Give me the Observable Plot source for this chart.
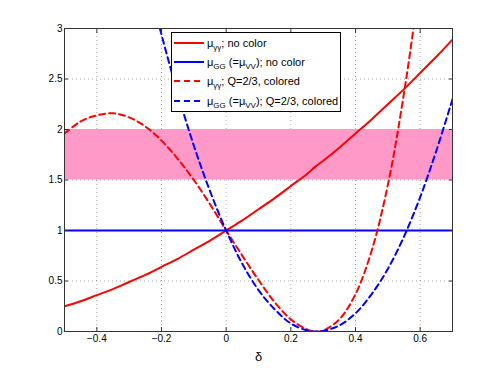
<!DOCTYPE html>
<html>
<head>
<meta charset="utf-8">
<script src="https://cdn.jsdelivr.net/npm/d3@7"></script>
<script src="https://cdn.jsdelivr.net/npm/@observablehq/plot@0.6"></script>
<style>
  body { margin: 0; background: #fff; }
  #wrap { position: relative; width: 498px; height: 372px; font-family: "Liberation Sans", Arial, sans-serif; }
  #legend { position: absolute; left: 171px; top: 32px; width: 170px; height: 80px; border: 1px solid #000; background: #fff; box-sizing: border-box; font-size: 11px; }
  .row { position: absolute; left: 2px; height: 16px; display: flex; align-items: center; white-space: nowrap; }
  .row svg { margin-right: 3px; }
  sub { font-size: 8px; vertical-align: -3px; line-height: 0; }
</style>
</head>
<body>
<div id="wrap"></div>
<script>
// x values (δ)
const delta = [-0.5,-0.45,-0.4,-0.35,-0.3,-0.25,-0.2,-0.15,-0.1,-0.05,0,0.05,0.1,0.15,0.2,0.25,0.275,0.3,0.35,0.4,0.45,0.5,0.55,0.6,0.65,0.7];
// μγγ, no color (red solid)
const muGamNoColor = [0.25,0.30,0.36,0.42,0.49,0.56,0.64,0.72,0.81,0.90,1.00,1.10,1.21,1.32,1.44,1.56,1.63,1.69,1.82,1.96,2.10,2.25,2.40,2.56,2.72,2.89];
// μGG (=μVV), no color (blue solid)
const muGGNoColor = [1,1,1,1,1,1,1,1,1,1,1,1,1,1,1,1,1,1,1,1,1,1,1,1,1,1];
// μγγ, Q=2/3, colored (red dashed)
const muGamColored = [1.96,2.08,2.14,2.16,2.12,2.03,1.89,1.71,1.50,1.26,1.00,0.75,0.51,0.29,0.12,0.02,0.0,0.01,0.12,0.37,0.80,1.45,2.36,3.5,4.8,6.5];
// μGG (=μVV), Q=2/3, colored (blue dashed)
const muGGColored = [7.76,6.80,5.90,5.06,4.29,3.58,2.94,2.36,1.84,1.39,1.00,0.67,0.41,0.22,0.08,0.01,0.0,0.005,0.06,0.18,0.37,0.62,0.94,1.33,1.79,2.30];
// band
const bandLow = [1.5];
const bandHigh = [2.0];
// ticks
const xTicks = [-0.4,-0.2,0,0.2,0.4,0.6];
const yTicks = [0,0.5,1,1.5,2,2.5,3];
// legend
const seriesNames = ["muGamNoColor","muGGNoColor","muGamColored","muGGColored"];
const seriesColors = ["#ff0000","#0000ff","#ff0000","#0000ff"];
const seriesDash = [null,null,"6,4","6,4"];
const legendHTML = [
  "μ<sub>γγ</sub>; no color",
  "μ<sub>GG</sub> (=μ<sub>VV</sub>); no color",
  "μ<sub>γγ</sub>; Q=2/3, colored",
  "μ<sub>GG</sub> (=μ<sub>VV</sub>); Q=2/3, colored"
];

const valuesBySeries = {muGamNoColor, muGGNoColor, muGamColored, muGGColored};
const data = [];
seriesNames.forEach((s) => {
  delta.forEach((d, j) => {
    data.push({series: s, x: d, y: valuesBySeries[s][j]});
  });
});

const band = bandLow.map((lo, i) => ({y1: lo, y2: bandHigh[i]}));

const font = "Liberation Sans, Arial, sans-serif";
const chart = Plot.plot({
  width: 498,
  height: 372,
  marginLeft: 64,
  marginRight: 46,
  marginTop: 28,
  marginBottom: 41,
  style: {fontFamily: font, fontSize: "10px", background: "#fff", color: "#000"},
  x: {domain: [-0.5, 0.7], ticks: xTicks, label: null},
  y: {domain: [0, 3], ticks: yTicks, label: null},
  marks: [
    Plot.gridX(xTicks, {stroke: "#000", strokeOpacity: 0.35, strokeDasharray: "1,3"}),
    Plot.gridY(yTicks, {stroke: "#000", strokeOpacity: 0.35, strokeDasharray: "1,3"}),
    Plot.rect(band, {x1: -0.5, x2: 0.7, y1: "y1", y2: "y2", fill: "#ff99c8"}),
    ...seriesNames.map((s, i) => Plot.line(data.filter(d => d.series === s), {
      x: "x", y: "y", stroke: seriesColors[i], strokeWidth: 2,
      strokeDasharray: seriesDash[i], curve: "catmull-rom", clip: true
    })),
    Plot.axisX(xTicks, {anchor: "bottom", tickSize: -4, tickPadding: 7, tickFormat: d => d === 0 ? "0" : d3.format(".1f")(d).replace("-", "−"), stroke: "#333"}),
    Plot.axisX(xTicks, {anchor: "top", tickSize: -4, tickFormat: () => "", stroke: "#333"}),
    Plot.axisY(yTicks, {anchor: "left", tickSize: -4, tickPadding: 6, tickFormat: d => String(d), stroke: "#333"}),
    Plot.axisY(yTicks, {anchor: "right", tickSize: -4, tickFormat: () => "", stroke: "#333"}),
    Plot.frame({stroke: "#333"}),
    Plot.text(["δ"], {frameAnchor: "bottom", dy: 20, fontSize: 13, textAnchor: "middle", lineAnchor: "top"})
  ]
});
const wrap = document.getElementById("wrap");
wrap.appendChild(chart);

const legend = document.createElement("div");
legend.id = "legend";
legendHTML.forEach((h, i) => {
  const row = document.createElement("div");
  row.className = "row";
  row.style.top = (2 + i * 19.2) + "px";
  const dash = seriesDash[i] ? `stroke-dasharray="6,4"` : "";
  row.innerHTML = `<svg width="30" height="6"><line x1="0" x2="30" y1="3" y2="3" stroke="${seriesColors[i]}" stroke-width="2" ${dash}/></svg><span>${h}</span>`;
  legend.appendChild(row);
});
wrap.appendChild(legend);
</script>
</body>
</html>
